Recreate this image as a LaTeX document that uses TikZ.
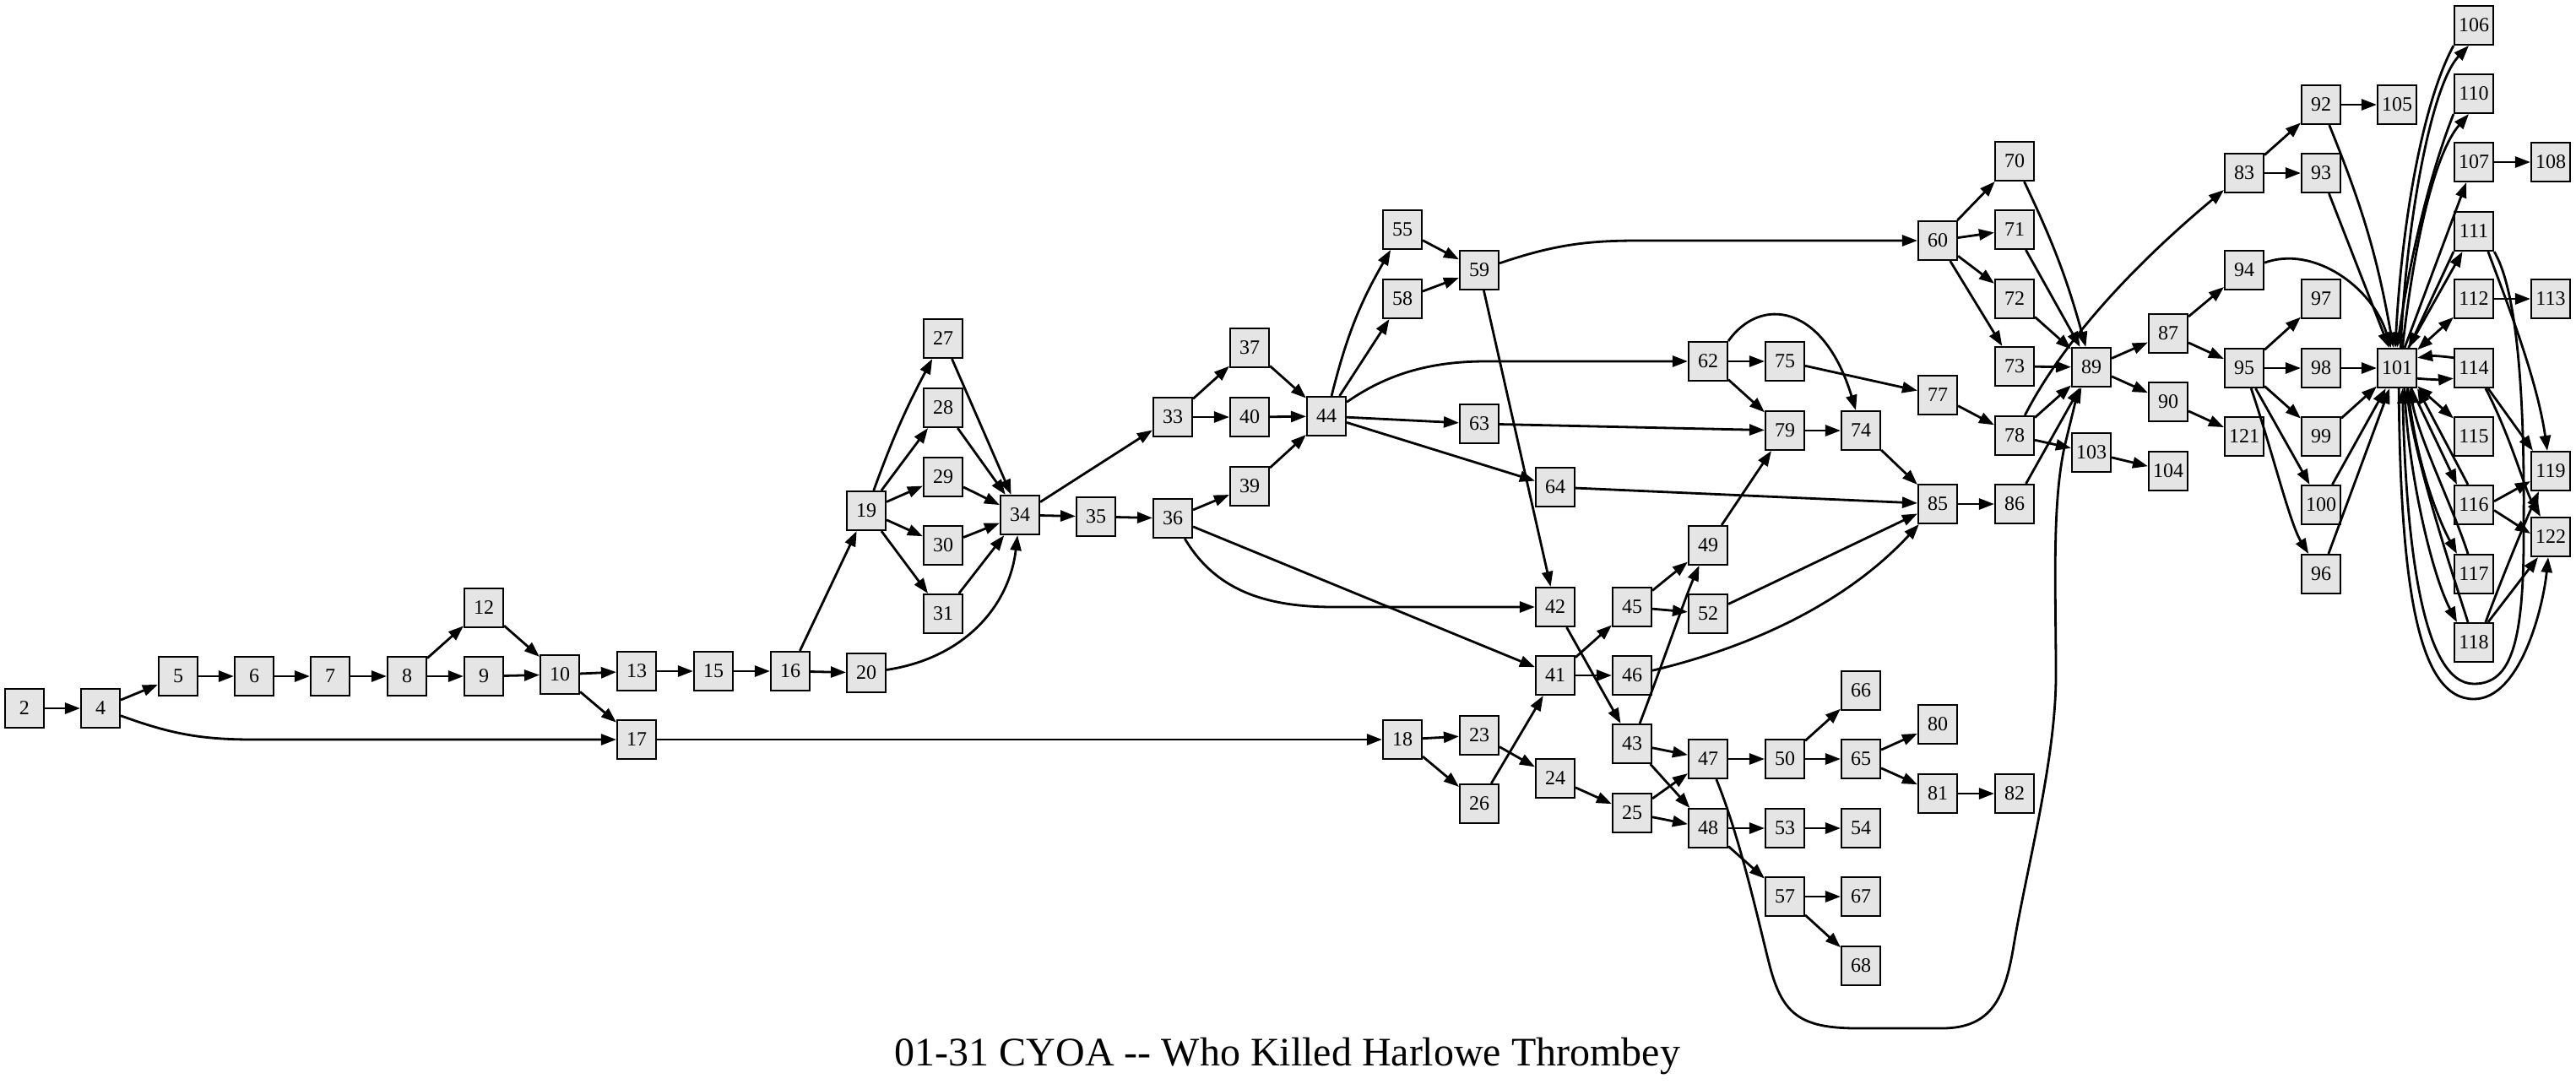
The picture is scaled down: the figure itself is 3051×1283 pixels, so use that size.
\documentclass[tikz,border=0pt]{standalone}
\usepackage{fontspec}
\setmainfont{Liberation Serif}
\usetikzlibrary{arrows.meta}
\definecolor{boxfill}{HTML}{E5E5E5}
\tikzset{
 nb/.style={draw=black, line width=2.1pt, fill=boxfill, minimum size=46pt, inner sep=0pt, font=\fontsize{24}{26}\selectfont},
 ed/.style={line width=2.8pt, -{Triangle[length=18pt,width=13pt]}},
 bi/.style={line width=2.8pt, {Triangle[length=18pt,width=13pt]}-{Triangle[length=18pt,width=13pt]}},
 ttl/.style={font=\fontsize{48}{52}\selectfont, inner sep=0pt}
}
\begin{document}
\begin{tikzpicture}[x=1pt,y=-1pt]
\useasboundingbox (0,0) rectangle (3051,1283);
\foreach \n/\x/\y in {2/29/839, 4/119/839, 5/211/801, 6/301/801, 7/391/801, 8/482/801, 12/573/720, 9/573/801, 10/663/799, 13/754/795, 17/754/876, 15/845/795, 16/936/795, 19/1026/605, 20/1026/797, 27/1117/401, 28/1117/483, 29/1117/565, 30/1117/646, 31/1117/727, 34/1208/610, 35/1298/612, 33/1389/494, 36/1389/614, 37/1480/412, 40/1480/494, 39/1480/576, 44/1571/493, 55/1661/272, 58/1661/354, 18/1661/876, 59/1752/320, 63/1752/502, 23/1752/871, 26/1752/952, 64/1842/577, 42/1842/719, 41/1842/800, 24/1842/922, 45/1933/719, 46/1933/800, 43/1933/881, 25/1933/963, 62/2023/428, 49/2023/646, 52/2023/727, 47/2023/899, 48/2023/981, 75/2114/428, 79/2114/510, 50/2114/899, 53/2114/981, 57/2114/1062, 74/2204/510, 66/2204/818, 65/2204/899, 54/2204/981, 67/2204/1062, 68/2204/1144, 60/2295/285, 77/2295/468, 85/2295/597, 80/2295/858, 81/2295/940, 70/2386/191, 71/2386/272, 72/2386/354, 73/2386/434, 78/2386/516, 86/2386/597, 82/2386/940, 89/2477/435, 103/2477/536, 87/2568/395, 90/2568/476, 104/2568/558, 83/2658/205, 94/2658/320, 95/2658/436, 121/2658/517, 92/2749/124, 93/2749/205, 97/2749/354, 98/2749/436, 99/2749/517, 100/2749/598, 96/2749/680, 105/2839/124, 101/2839/436, 106/2930/30, 110/2930/111, 107/2930/192, 111/2930/274, 112/2930/354, 114/2930/436, 115/2930/517, 116/2930/598, 117/2930/680, 118/2930/761, 108/3021/192, 113/3021/354, 119/3021/558, 122/3021/636}
  \node[nb] (n\n) at (\x,\y) {\n};

\foreach \a/\b in {2/4, 4/5, 5/6, 6/7, 7/8, 8/12, 8/9, 12/10, 9/10, 10/13, 10/17, 13/15, 15/16, 16/19, 16/20, 17/18,
 19/28, 19/29, 19/30, 19/31, 27/34, 28/34, 29/34, 30/34, 31/34, 34/33, 34/35, 35/36, 33/37, 33/40, 36/39, 36/41,
 37/44, 40/44, 39/44, 44/58, 44/63, 44/64, 55/59, 58/59, 59/42, 60/70, 60/71, 60/72, 60/73, 62/75, 62/79, 75/77,
 63/79, 79/74, 74/85, 64/85, 49/79, 52/85, 85/86, 77/78, 18/23, 18/26, 26/41, 23/24, 24/25, 41/45, 41/46, 42/43,
 45/49, 45/52, 43/47, 43/48, 25/47, 25/48, 47/50, 50/66, 50/65, 65/80, 65/81, 81/82, 48/53, 48/57, 53/54, 57/67,
 57/68, 71/89, 72/89, 73/89, 78/89, 86/89, 78/103, 103/104, 89/87, 89/90, 90/121, 87/94, 87/95, 83/92, 83/93,
 92/105, 93/101, 95/97, 95/98, 95/99, 95/100, 98/101, 99/101, 100/101, 96/101, 101/107, 101/111, 107/108, 112/113}
  \draw[ed] (n\a) -- (n\b);

% curved connectors
\draw[ed] (n4) to[out=-20,in=180] (300,876) -- (n17);
\draw[ed] (n19) to[bend left=4] (n27);
\draw[ed] (n20) .. controls (1140,780) and (1195,720) .. (n34);
\draw[ed] (n36) .. controls (1440,700) and (1500,719) .. (1580,719) -- (n42);
\draw[ed] (n44) .. controls (1640,445) and (1690,428) .. (1760,428) -- (n62);
\draw[ed] (n44) to[bend left=8] (n55);
\draw[ed] (n59) .. controls (1840,290) and (1880,285) .. (1940,285) -- (n60);
\draw[ed] (n62.north east) .. controls (2085,350) and (2160,360) .. ([xshift=-6pt]n74.north);
\draw[ed] (n43) .. controls (1975,770) and (1995,710) .. (n49);
\draw[ed] (n46) .. controls (2100,760) and (2200,700) .. (n85);
\draw[ed] (n47) .. controls (2060,990) and (2080,1080) .. (2095,1140) .. controls (2110,1200) and (2130,1218) .. (2200,1218) -- (2300,1218) .. controls (2360,1218) and (2375,1180) .. (2385,1120) .. controls (2400,1030) and (2435,900) .. (2435,800) .. controls (2435,700) and (2430,600) .. (2445,530) .. controls (2452,500) and (2460,470) .. (n89);
\draw[ed] (n78) .. controls (2440,410) and (2520,320) .. (n83);
\draw[ed] (n70) to[bend left=5] (n89);
\draw[ed] (n92) to[bend left=6] (n101);
\draw[ed] (n94) .. controls (2740,290) and (2810,340) .. (n101);
\draw[ed] (n95) .. controls (2690,530) and (2712,620) .. (n96);

% hub 101
\draw[ed] (n101.80) .. controls (2850,260) and (2880,100) .. ([xshift=-6pt]n106.south);
\draw[ed] (n106.south west) .. controls (2870,120) and (2845,260) .. (n101.95);
\draw[ed] (n101.75) .. controls (2860,280) and (2885,180) .. ([xshift=-6pt]n110.south);
\draw[ed] (n110.south west) .. controls (2880,200) and (2855,300) .. (n101.90);
\draw[ed] (n111.south west) -- (n101.60);
\draw[bi] (n101) -- (n112);
\draw[ed] (n114.153) to[bend right=8] (n101.27);
\draw[ed] (n101.-27) to[bend right=5] (n114.-153);
\draw[bi] (n101) -- (n115);
\draw[ed] (n101.-55) -- ([xshift=4pt]n116.north west);
\draw[ed] ([xshift=-7pt]n116.north) -- (n101.-45);
\draw[ed] (n101.-62) .. controls (2860,540) and (2885,610) .. ([xshift=4pt]n117.north west);
\draw[ed] ([xshift=-7pt]n117.north) .. controls (2905,600) and (2865,520) .. (n101.-58);
\draw[ed] (n101.-70) .. controls (2852,560) and (2880,680) .. ([xshift=4pt]n118.north west);
\draw[ed] ([xshift=-7pt]n118.north) .. controls (2895,650) and (2860,540) .. (n101.-65);
\draw[ed] (n101.-85) .. controls (2843,700) and (2865,828) .. (2930,828) .. controls (2985,828) and (3012,720) .. ([xshift=-3pt]n122.south);
\draw[ed] (n111.south east) .. controls (2985,350) and (2990,500) .. (2989,620) .. controls (2990,760) and (2975,810) .. (2930,810) .. controls (2870,810) and (2850,650) .. (n101.-75);
\draw[ed] (n111.-55) .. controls (2970,360) and (3005,450) .. ([xshift=-4pt]n119.north);
\draw[ed] (n114.-55) -- ([xshift=3pt]n119.north west);
\draw[ed] (n114.-60) .. controls (2975,520) and (2990,580) .. ([xshift=-12pt]n122.north);
\draw[ed] (n116.10) -- ([yshift=12pt]n119.south west);
\draw[ed] (n116.-15) -- ([yshift=4pt]n122.west);
\draw[ed] (n118.60) .. controls (2965,680) and (2990,620) .. ([xshift=-14pt]n119.south);
\draw[ed] (n118.55) -- ([xshift=-15pt]n122.south);

\node[ttl] (title) at (1525,1251) {01-31 CYOA -{}- Who Killed Harlowe Thrombey};
\end{tikzpicture}
\end{document}
